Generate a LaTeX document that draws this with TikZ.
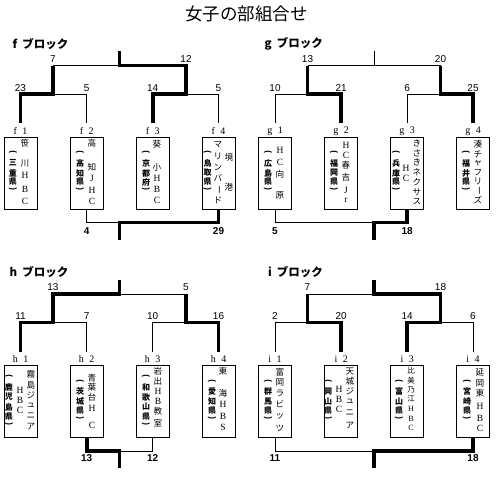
\documentclass[tikz,border=0pt]{standalone}
\usepackage{fontspec}
\usepackage{graphicx}
\setmainfont{Liberation Serif}
\setsansfont{Liberation Sans}
\newfontfamily\jp{Noto Sans CJK JP}
\newcommand\vlp{\rotatebox[origin=c]{-90}{(}}
\newcommand\vrp{\rotatebox[origin=c]{-90}{)}}
\newcommand\vbar{\rotatebox[origin=c]{-90}{ー}}
\newcommand\lat[1]{{\rmfamily\fontsize{9.5}{9.5}\selectfont #1}}
\newcommand\slat[1]{{\rmfamily\fontsize{8}{8}\selectfont #1}}
\newcommand\vcol[4]{\foreach \yy/\ch [count=\kk] in {#4}{\node[#3] (#1\kk) at (#2,\yy) {\ch};}}
\begin{document}
\begin{tikzpicture}[x=1pt,y=-1pt,
  thn/.style={line width=0.9pt},
  thk/.style={line width=3.6pt},
  teambox/.style={draw,line width=0.8pt,minimum width=33pt,minimum height=72pt,inner sep=0pt},
  lab/.style={font=\rmfamily\fontsize{10}{10}\selectfont,inner sep=0pt},
  nm/.style={font=\jp\fontsize{8.6}{8.6}\selectfont,inner sep=0pt},
  sm/.style={font=\jp\fontsize{7.5}{7.5}\selectfont,inner sep=0pt},
  pf/.style={font=\jp\bfseries\fontsize{8}{8}\selectfont,inner sep=0pt},
  sc/.style={font=\sffamily\fontsize{10}{10}\selectfont,inner sep=0pt},
  bsc/.style={font=\sffamily\bfseries\fontsize{10}{10}\selectfont,inner sep=0pt},
  blk/.style={font=\jp\bfseries\fontsize{11.5}{11.5}\selectfont,inner sep=0pt,anchor=east},
  ttl/.style={font=\jp\fontsize{17.5}{17.5}\selectfont,inner sep=0pt}]
\useasboundingbox (0,0) rectangle (500,476);

\node[ttl] (title) at (246.5,14) {女子の部組合せ};
\node[blk] (fhead) at (68.5,44) {f\hspace{5pt}ブロック};
\node[blk] (ghead) at (323,44) {g\hspace{5pt}ブロック};
\node[blk] (hhead) at (68.5,272.5) {h\hspace{5pt}ブロック};
\node[blk] (ihead) at (323,272.5) {i\hspace{5pt}ブロック};

\foreach \blk/\dx/\dy in {f/0/0,g/254.5/0,h/0/228.5,i/254.5/228.5}{
  \begin{scope}[shift={(\dx,\dy)}]
    \coordinate (\blk S) at (119.5,51);
    \coordinate (\blk C) at (119.5,65.7);
    \coordinate (\blk L) at (53,65.7);
    \coordinate (\blk R) at (186,65.7);
    \coordinate (\blk Lm) at (53,94);
    \coordinate (\blk Rm) at (186,94);
    \coordinate (\blk D) at (119.5,222.5);
    \coordinate (\blk E) at (119.5,239.5);
    \foreach \k/\xx in {1/20.5,2/86.7,3/152.7,4/218.5}{
      \coordinate (\blk\k m) at (\xx,94);
      \coordinate (\blk\k t) at (\xx,123);
      \coordinate (\blk\k u) at (\xx,222.5);
      \node[lab] (\blk\k lab) at (\xx,131) {\blk\hspace{5.5pt}\k};
      \node[teambox] (\blk\k box) at (\xx,173) {};
    }
  \end{scope}}

% ---- f block
\draw[thn] (f2t) |- (fLm);
\draw[thn] (f4t) |- (fRm);
\draw[thn] (fL) -- (fC);
\draw[thn] (f2box.south) |- (fD);
\draw[thk] (f1t) |- (fLm) -- (fL);
\draw[thk] (f3t) |- (fRm) -- (fR) -- (fC) -- (fS);
\draw[thk] (f4box.south) |- (fD) -- (fE);
% ---- g block
\draw[thn] (g1t) |- (gLm);
\draw[thn] (g3t) |- (gRm);
\draw[thn] (gL) -- (gR);
\draw[thn] (gC) -- (gS);
\draw[thn] (g1box.south) |- (gD);
\draw[thk] (g2t) |- (gLm) -- (gL);
\draw[thk] (g4t) |- (gRm) -- (gR);
\draw[thk] (g3box.south) |- (gD) -- (gE);
% ---- h block
\draw[thn] (h2t) |- (hLm);
\draw[thn] (h3t) |- (hRm);
\draw[thn] (hC) -- (hR);
\draw[thn] (h3box.south) |- (hD);
\draw[thk] (h1t) |- (hLm) -- (hL) -- (hC) -- (hS);
\draw[thk] (h4t) |- (hRm) -- (hR);
\draw[thk] (h2box.south) |- (hD) -- (hE);
% ---- i block
\draw[thn] (i1t) |- (iLm);
\draw[thn] (i4t) |- (iRm);
\draw[thn] (iL) -- (iC);
\draw[thn] (i1box.south) |- (iD);
\draw[thk] (i2t) |- (iLm) -- (iL);
\draw[thk] (i3t) |- (iRm) -- (iR) -- (iC) -- (iS);
\draw[thk] (i4box.south) |- (iD) -- (iE);

% ---- scores
\node[sc] (fsL) at ([yshift=6.7pt]fL) {7};
\node[sc] (fsR) at ([yshift=6.7pt]fR) {12};
\node[sc] (fs1) at ([yshift=6.3pt]f1m) {23};
\node[sc] (fs2) at ([yshift=6.3pt]f2m) {5};
\node[sc] (fs3) at ([yshift=6.3pt]f3m) {14};
\node[sc] (fs4) at ([yshift=6.3pt]f4m) {5};
\node[bsc] (fb2) at ([yshift=-9pt]f2u) {4};
\node[bsc] (fb4) at ([yshift=-9pt]f4u) {29};

\node[sc] (gsL) at ([yshift=6.7pt]gL) {13};
\node[sc] (gsR) at ([yshift=6.7pt]gR) {20};
\node[sc] (gs1) at ([yshift=6.3pt]g1m) {10};
\node[sc] (gs2) at ([yshift=6.3pt]g2m) {21};
\node[sc] (gs3) at ([yshift=6.3pt]g3m) {6};
\node[sc] (gs4) at ([yshift=6.3pt]g4m) {25};
\node[bsc] (gb1) at ([yshift=-9pt]g1u) {5};
\node[bsc] (gb3) at ([yshift=-9pt]g3u) {18};

\node[sc] (hsL) at ([yshift=6.7pt]hL) {13};
\node[sc] (hsR) at ([yshift=6.7pt]hR) {5};
\node[sc] (hs1) at ([yshift=6.3pt]h1m) {11};
\node[sc] (hs2) at ([yshift=6.3pt]h2m) {7};
\node[sc] (hs3) at ([yshift=6.3pt]h3m) {10};
\node[sc] (hs4) at ([yshift=6.3pt]h4m) {16};
\node[bsc] (hb2) at ([yshift=-7.5pt]h2u) {13};
\node[bsc] (hb3) at ([yshift=-7.5pt]h3u) {12};

\node[sc] (isL) at ([yshift=6.7pt]iL) {7};
\node[sc] (isR) at ([yshift=6.7pt]iR) {18};
\node[sc] (is1) at ([yshift=6.3pt]i1m) {2};
\node[sc] (is2) at ([yshift=6.3pt]i2m) {20};
\node[sc] (is3) at ([yshift=6.3pt]i3m) {14};
\node[sc] (is4) at ([yshift=6.3pt]i4m) {6};
\node[bsc] (ib1) at ([yshift=-7.5pt]i1u) {11};
\node[bsc] (ib4) at ([yshift=-7.5pt]i4u) {18};

% ---- team texts, f row
\vcol{f1n}{25}{nm}{143/笹,163/川,175/\lat{H},189/\lat{B},201/\lat{C}}
\vcol{f1p}{13}{pf}{153/\vlp,163/三,173/重,182/県,190/\vrp}
\vcol{f2n}{92}{nm}{143/高,167/知,178/\lat{J},190/\lat{H},201/\lat{C}}
\vcol{f2p}{80}{pf}{153/\vlp,163/高,173/知,182/県,190/\vrp}
\vcol{f3n}{157}{nm}{144/葵,167/小,178/\lat{H},189/\lat{B},200/\lat{C}}
\vcol{f3p}{146}{pf}{153/\vlp,163/京,173/都,182/府,190/\vrp}
\vcol{f4a}{229}{nm}{157/境,187/港}
\vcol{f4n}{218}{nm}{145/マ,156/リ,167/ン,178/バ,190/\vbar,200/ド}
\vcol{f4p}{207.5}{pf}{153/\vlp,163/鳥,173/取,182/県,190/\vrp}
% ---- g row
\vcol{g1n}{280}{nm}{150/\lat{H},162/\lat{C},174/向,195/原}
\vcol{g1p}{268}{pf}{153/\vlp,163/広,173/島,182/県,190/\vrp}
\vcol{g2n}{346}{nm}{145/\lat{H},155/\lat{C},165/春,177/吉,190/\lat{J},200/\lat{r}}
\vcol{g2p}{334}{pf}{153/\vlp,163/福,173/岡,182/県,190/\vrp}
\vcol{g3a}{417}{nm}{143/き,153/さ,162.5/き,172/ネ,182/ク,192/サ,202/ス}
\vcol{g3n}{406}{nm}{168/\lat{H},178/\lat{C}}
\vcol{g3p}{396}{pf}{153/\vlp,163/兵,173/庫,182/県,190/\vrp}
\vcol{g4n}{478}{nm}{144/湊,154/チ,163.5/ャ,172.5/フ,181.5/リ,190.5/\vbar,200/ズ}
\vcol{g4p}{466}{pf}{153/\vlp,163/福,173/井,182/県,190/\vrp}
% ---- h row
\vcol{h1a}{31}{nm}{374/霧,385/島,395/ジ,405/ュ,416/ニ,427/ア}
\vcol{h1n}{20}{nm}{390/\lat{H},400/\lat{B},410/\lat{C}}
\vcol{h1p}{9}{pf}{377/\vlp,387/鹿,397/児,407/島,417/県,425/\vrp}
\vcol{h2n}{92}{nm}{378/青,387.5/葉,397/台,408/\lat{H},425/\lat{C}}
\vcol{h2p}{80}{pf}{381.5/\vlp,391.5/茨,401.5/城,410.5/県,418.5/\vrp}
\vcol{h3n}{158}{nm}{371/岩,381/出,391/\lat{H},401/\lat{B},411/教,423/室}
\vcol{h3p}{146}{pf}{377/\vlp,387/和,397/歌,407/山,417/県,425/\vrp}
\vcol{h4n}{223}{nm}{371/東,393/海,404/\lat{H},416/\lat{B},427/\lat{S}}
\vcol{h4p}{212}{pf}{381.5/\vlp,391.5/愛,401.5/知,410.5/県,418.5/\vrp}
% ---- i row
\vcol{i1n}{280}{nm}{372/富,382/岡,393/ラ,404/ビ,416/ッ,428/ツ}
\vcol{i1p}{268}{pf}{381.5/\vlp,391.5/群,401.5/馬,410.5/県,418.5/\vrp}
\vcol{i2a}{350}{nm}{372/天,381.5/城,391.5/ジ,401.5/ュ,413/ニ,426/ア}
\vcol{i2n}{339}{nm}{389/\lat{H},399/\lat{B},409/\lat{C}}
\vcol{i2p}{328}{pf}{381.5/\vlp,391.5/岡,401.5/山,410.5/県,418.5/\vrp}
\vcol{i3n}{411}{sm}{371/比,380.5/美,389.5/乃,398.5/江,409/\slat{H},419/\slat{B},428/\slat{C}}
\vcol{i3p}{399}{pf}{381.5/\vlp,391.5/富,401.5/山,410.5/県,418.5/\vrp}
\vcol{i4n}{480}{nm}{372/延,383/岡,393/東,406/\lat{H},418/\lat{B},428/\lat{C}}
\vcol{i4p}{467}{pf}{381.5/\vlp,391.5/宮,401.5/崎,410.5/県,418.5/\vrp}
\end{tikzpicture}
\end{document}
